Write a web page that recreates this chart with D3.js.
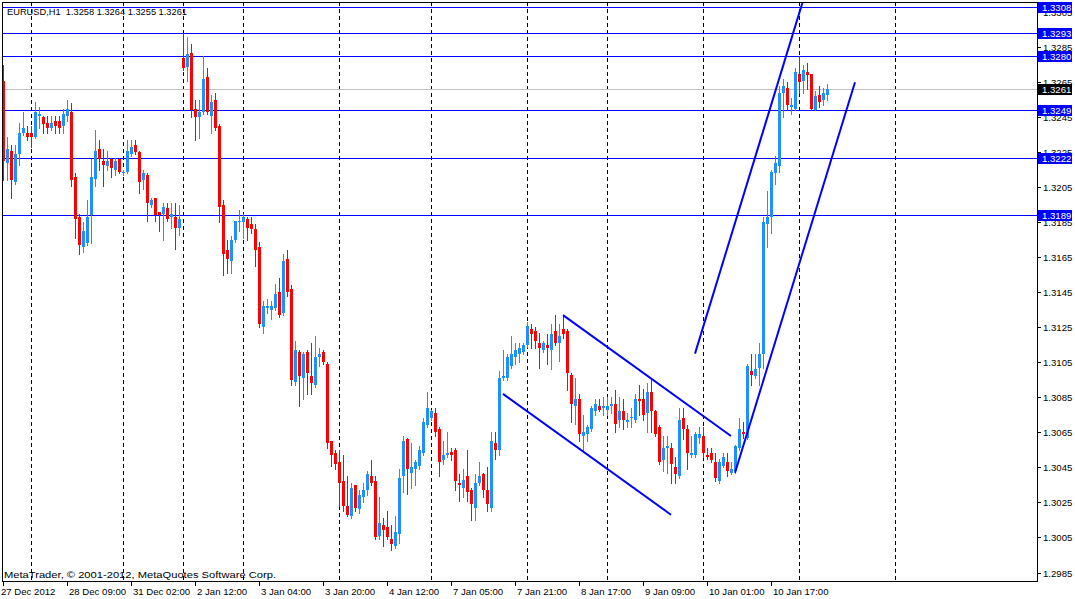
<!DOCTYPE html>
<html>
<head>
<meta charset="utf-8">
<script src="https://d3js.org/d3.v7.min.js"></script>
<style>
  body { margin: 0; background: #fff; }
  svg { display: block; }
  text { font-family: "Liberation Sans", Arial, sans-serif; font-size: 9.6px; }
</style>
</head>
<body>
<div class="chart"></div>
<script>
var w = 1075;
var h = 599;
var upColor = "#1E90FF";
var downColor = "#FF0000";
var lineBlue = "#0000FF";

var symbol = "EURUSD";
var period = "H1";

// hourly bars, index 0 = 27 Dec 2012 17:00
var open = [
  1.3266,1.3219,1.3226,1.3208,1.3224,1.3236,1.3236,1.3236,1.3234,1.3246,
  1.3245,1.3242,1.3239,1.3243,1.3243,1.3240,1.3246,1.3248,1.3211,1.3188,
  1.3171,1.3173,1.3189,1.3210,1.3227,1.3220,1.3217,1.3221,1.3215,1.3221,
  1.3213,1.3214,1.3224,1.3229,1.3225,1.3209,1.3212,1.3195,1.3199,1.3191,
  1.3190,1.3193,1.3188,1.3188,1.3182,1.3279,1.3274,1.3282,1.3250,1.3245,
  1.3248,1.3268,1.3246,1.3255,1.3240,1.3195,1.3169,1.3163,1.3175,1.3185,
  1.3185,1.3187,1.3184,1.3181,1.3171,1.3125,1.3136,1.3135,1.3136,1.3145,
  1.3133,1.3164,1.3147,1.3094,1.3111,1.3096,1.3111,1.3097,1.3092,1.3108,
  1.3111,1.3104,1.3060,1.3053,1.3048,1.3037,1.3023,1.3017,1.3035,1.3021,
  1.3028,1.3032,1.3040,1.3037,1.3006,1.3012,1.3011,1.3004,1.3000,1.3007,
  1.3040,1.3061,1.3042,1.3044,1.3046,1.3053,1.3069,1.3073,1.3076,1.3067,
  1.3049,1.3052,1.3054,1.3055,1.3036,1.3033,1.3040,1.3032,1.3022,1.3036,
  1.3041,1.3032,1.3022,1.3059,1.3055,1.3096,1.3096,1.3103,1.3108,1.3110,
  1.3111,1.3115,1.3124,1.3123,1.3116,1.3112,1.3115,1.3112,1.3123,1.3116,
  1.3124,1.3123,1.3098,1.3080,1.3084,1.3063,1.3064,1.3067,1.3077,1.3080,
  1.3079,1.3078,1.3080,1.3081,1.3072,1.3077,1.3071,1.3073,1.3072,1.3084,
  1.3084,1.3076,1.3088,1.3077,1.3068,1.3049,1.3056,1.3056,1.3045,1.3040,
  1.3073,1.3067,1.3052,1.3052,1.3062,1.3063,1.3052,1.3053,1.3048,1.3037,
  1.3046,1.3048,1.3042,1.3043,1.3056,1.3065,1.3062,1.3100,1.3097,1.3102,
  1.3110,1.3184,1.3188,1.3213,1.3217,1.3259,1.3262,1.3251,1.3250,1.3270,
  1.3266,1.3271,1.3270,1.3249,1.3258,1.3255,1.3258
];
var high = [
  1.3275,1.3234,1.3229,1.3229,1.3242,1.3248,1.3240,1.3240,1.3254,1.3251,
  1.3246,1.3246,1.3246,1.3246,1.3246,1.3250,1.3255,1.3253,1.3213,1.3190,
  1.3185,1.3198,1.3221,1.3238,1.3232,1.3227,1.3226,1.3222,1.3222,1.3222,
  1.3215,1.3232,1.3232,1.3232,1.3226,1.3215,1.3213,1.3199,1.3199,1.3191,
  1.3196,1.3196,1.3196,1.3196,1.3195,1.3293,1.3291,1.3287,1.3255,1.3255,
  1.3280,1.3273,1.3258,1.3259,1.3241,1.3198,1.3175,1.3177,1.3186,1.3192,
  1.3190,1.3188,1.3188,1.3184,1.3174,1.3140,1.3141,1.3140,1.3150,1.3153,
  1.3167,1.3169,1.3149,1.3117,1.3112,1.3111,1.3112,1.3116,1.3120,1.3113,
  1.3112,1.3105,1.3060,1.3055,1.3055,1.3052,1.3040,1.3036,1.3035,1.3032,
  1.3036,1.3043,1.3049,1.3040,1.3028,1.3016,1.3020,1.3012,1.3017,1.3044,
  1.3063,1.3062,1.3059,1.3049,1.3057,1.3073,1.3088,1.3078,1.3079,1.3068,
  1.3060,1.3065,1.3056,1.3056,1.3041,1.3044,1.3055,1.3033,1.3041,1.3048,
  1.3042,1.3045,1.3065,1.3065,1.3100,1.3112,1.3110,1.3120,1.3116,1.3116,
  1.3116,1.3128,1.3127,1.3125,1.3122,1.3117,1.3121,1.3127,1.3132,1.3127,
  1.3132,1.3124,1.3099,1.3096,1.3087,1.3075,1.3069,1.3080,1.3084,1.3084,
  1.3085,1.3085,1.3085,1.3089,1.3085,1.3084,1.3076,1.3079,1.3087,1.3092,
  1.3090,1.3093,1.3096,1.3078,1.3069,1.3063,1.3063,1.3059,1.3051,1.3079,
  1.3079,1.3069,1.3063,1.3065,1.3068,1.3068,1.3056,1.3056,1.3053,1.3050,
  1.3053,1.3053,1.3048,1.3058,1.3073,1.3071,1.3104,1.3110,1.3110,1.3116,
  1.3188,1.3203,1.3215,1.3223,1.3263,1.3267,1.3265,1.3256,1.3273,1.3280,
  1.3275,1.3276,1.3270,1.3260,1.3263,1.3262,1.3264
];
var low = [
  1.3209,1.3209,1.3199,1.3207,1.3218,1.3235,1.3232,1.3228,1.3233,1.3239,
  1.3236,1.3236,1.3238,1.3236,1.3236,1.3236,1.3243,1.3206,1.3176,1.3167,
  1.3168,1.3172,1.3173,1.3206,1.3215,1.3206,1.3215,1.3211,1.3212,1.3213,
  1.3212,1.3213,1.3223,1.3224,1.3202,1.3204,1.3186,1.3194,1.3186,1.3180,
  1.3175,1.3186,1.3182,1.3170,1.3178,1.3272,1.3266,1.3245,1.3232,1.3233,
  1.3247,1.3247,1.3236,1.3238,1.3185,1.3155,1.3156,1.3156,1.3174,1.3180,
  1.3176,1.3175,1.3179,1.3160,1.3125,1.3122,1.3133,1.3130,1.3135,1.3131,
  1.3132,1.3143,1.3092,1.3092,1.3080,1.3084,1.3087,1.3087,1.3091,1.3103,
  1.3104,1.3056,1.3046,1.3044,1.3023,1.3020,1.3017,1.3016,1.3020,1.3019,
  1.3025,1.3029,1.3035,1.3004,1.3004,1.3000,1.3004,1.2998,1.2999,1.3002,
  1.3031,1.3030,1.3033,1.3035,1.3044,1.3052,1.3068,1.3072,1.3063,1.3040,
  1.3047,1.3051,1.3049,1.3032,1.3026,1.3028,1.3026,1.3015,1.3015,1.3035,
  1.3028,1.3020,1.3020,1.3050,1.3052,1.3095,1.3095,1.3102,1.3104,1.3105,
  1.3110,1.3114,1.3113,1.3113,1.3102,1.3111,1.3104,1.3101,1.3115,1.3106,
  1.3119,1.3089,1.3071,1.3070,1.3060,1.3055,1.3060,1.3066,1.3075,1.3077,
  1.3075,1.3075,1.3076,1.3065,1.3068,1.3067,1.3068,1.3068,1.3071,1.3075,
  1.3072,1.3065,1.3065,1.3063,1.3047,1.3043,1.3042,1.3036,1.3036,1.3039,
  1.3061,1.3044,1.3051,1.3051,1.3059,1.3051,1.3050,1.3048,1.3037,1.3036,
  1.3045,1.3040,1.3041,1.3042,1.3055,1.3062,1.3061,1.3092,1.3096,1.3092,
  1.3102,1.3171,1.3179,1.3207,1.3214,1.3245,1.3249,1.3247,1.3249,1.3259,
  1.3259,1.3261,1.3249,1.3249,1.3251,1.3252,1.3255
];
var close = [
  1.3220,1.3227,1.3209,1.3224,1.3236,1.3239,1.3234,1.3234,1.3248,1.3247,
  1.3241,1.3239,1.3242,1.3240,1.3239,1.3247,1.3250,1.3209,1.3187,1.3172,
  1.3180,1.3188,1.3211,1.3226,1.3221,1.3218,1.3220,1.3216,1.3220,1.3214,
  1.3214,1.3226,1.3228,1.3225,1.3208,1.3213,1.3196,1.3198,1.3189,1.3189,
  1.3194,1.3187,1.3190,1.3182,1.3187,1.3273,1.3281,1.3249,1.3245,1.3248,
  1.3267,1.3248,1.3254,1.3239,1.3194,1.3167,1.3164,1.3175,1.3186,1.3186,
  1.3188,1.3182,1.3181,1.3169,1.3127,1.3137,1.3137,1.3137,1.3144,1.3132,
  1.3163,1.3145,1.3095,1.3112,1.3097,1.3110,1.3099,1.3093,1.3108,1.3110,
  1.3105,1.3059,1.3052,1.3047,1.3036,1.3023,1.3018,1.3033,1.3022,1.3029,
  1.3032,1.3041,1.3036,1.3005,1.3013,1.3009,1.3005,1.3001,1.3008,1.3039,
  1.3060,1.3044,1.3045,1.3048,1.3055,1.3071,1.3079,1.3077,1.3065,1.3048,
  1.3052,1.3053,1.3052,1.3037,1.3035,1.3038,1.3031,1.3024,1.3036,1.3040,
  1.3032,1.3024,1.3060,1.3055,1.3096,1.3097,1.3108,1.3110,1.3112,1.3113,
  1.3115,1.3126,1.3121,1.3117,1.3113,1.3116,1.3113,1.3121,1.3116,1.3120,
  1.3121,1.3099,1.3081,1.3084,1.3064,1.3065,1.3068,1.3079,1.3081,1.3078,
  1.3080,1.3080,1.3081,1.3070,1.3077,1.3072,1.3072,1.3074,1.3084,1.3083,
  1.3075,1.3088,1.3077,1.3064,1.3048,1.3056,1.3057,1.3047,1.3041,1.3072,
  1.3067,1.3053,1.3053,1.3064,1.3064,1.3053,1.3051,1.3049,1.3039,1.3048,
  1.3051,1.3043,1.3044,1.3057,1.3067,1.3064,1.3103,1.3098,1.3101,1.3110,
  1.3185,1.3188,1.3214,1.3219,1.3259,1.3263,1.3252,1.3252,1.3271,1.3265,
  1.3272,1.3269,1.3250,1.3257,1.3254,1.3259,1.3261
];

// time axis: bar index of each label
var timeTickBars = [0, 16, 32, 48, 64, 80, 96, 112, 128, 144, 160, 176, 192];
var timeTickLabels = ["27 Dec 2012", "28 Dec 09:00", "31 Dec 02:00", "2 Jan 12:00", "3 Jan 04:00",
  "3 Jan 20:00", "4 Jan 12:00", "7 Jan 05:00", "7 Jan 21:00", "8 Jan 17:00", "9 Jan 09:00",
  "10 Jan 01:00", "10 Jan 17:00"];
// day separators (bar index)
var separatorBars = [7, 30, 45, 60, 84, 107, 131, 151, 175, 199, 223];

var priceTicks = [1.2985, 1.3005, 1.3025, 1.3045, 1.3065, 1.3085, 1.3105, 1.3125, 1.3145,
  1.3165, 1.3185, 1.3205, 1.3225, 1.3245, 1.3265, 1.3285, 1.3305];
var levelPrices = [1.3308, 1.3293, 1.3280, 1.3249, 1.3222, 1.3189];
var bidPrice = 1.3261;

// trend lines: [bar, price] pairs
var channelStart = [[140, 1.3132], [125, 1.3087], [173, 1.3110], [183, 1.3042]];
var channelEnd   = [[182, 1.3063], [167, 1.3018], [201, 1.3319], [213, 1.3265]];

var plotL = 2, plotR = 1037, plotT = 2, plotB = 582;

var xScale = d3.scaleLinear().domain([0, 1]).range([3, 7]); // 4px per bar
var yScale = d3.scaleLinear().domain([1.2985, 1.3308]).range([572.5, 7]);

var svg = d3.select(".chart").append("svg")
  .attr("width", w)
  .attr("height", h)
  .style("shape-rendering", "crispEdges");

svg.append("rect").attr("width", w).attr("height", h).attr("fill", "#fff");

svg.append("clipPath").attr("id", "plotClip")
  .append("rect")
  .attr("x", plotL + 1).attr("y", plotT + 1)
  .attr("width", plotR - plotL - 1).attr("height", plotB - plotT - 1);

var plot = svg.append("g").attr("clip-path", "url(#plotClip)");

// period separators
plot.selectAll(".sep")
  .data(separatorBars)
  .enter().append("line")
  .attr("class", "sep")
  .attr("x1", d => Math.round(xScale(d)) + 0.5)
  .attr("x2", d => Math.round(xScale(d)) + 0.5)
  .attr("y1", plotT)
  .attr("y2", plotB)
  .attr("stroke", "#000")
  .attr("stroke-width", 1)
  .attr("stroke-dasharray", "4,3");

// bid line
plot.append("line")
  .attr("x1", plotL).attr("x2", plotR)
  .attr("y1", Math.round(yScale(bidPrice)) + 0.5)
  .attr("y2", Math.round(yScale(bidPrice)) + 0.5)
  .attr("stroke", "#C0C0C0");

// horizontal level lines
plot.selectAll(".level")
  .data(levelPrices)
  .enter().append("line")
  .attr("class", "level")
  .attr("x1", plotL).attr("x2", plotR)
  .attr("y1", d => Math.round(yScale(d)) + 0.5)
  .attr("y2", d => Math.round(yScale(d)) + 0.5)
  .attr("stroke", lineBlue);

// candles
var bars = d3.range(open.length);
var candle = plot.selectAll(".candle")
  .data(bars)
  .enter().append("g")
  .attr("class", "candle")
  .attr("fill", i => close[i] >= open[i] ? upColor : downColor)
  .attr("stroke", i => close[i] >= open[i] ? upColor : downColor);

candle.append("line") // wick
  .attr("x1", i => Math.round(xScale(i)) + 0.5)
  .attr("x2", i => Math.round(xScale(i)) + 0.5)
  .attr("y1", i => Math.round(yScale(high[i])))
  .attr("y2", i => Math.round(yScale(low[i])) + 1);

candle.append("rect") // body
  .attr("stroke", "none")
  .attr("x", i => Math.round(xScale(i)) - 1)
  .attr("width", 3)
  .attr("y", i => Math.round(yScale(Math.max(open[i], close[i]))))
  .attr("height", i => Math.max(1, Math.round(yScale(Math.min(open[i], close[i]))) - Math.round(yScale(Math.max(open[i], close[i])))));

// channel lines
plot.selectAll(".trend")
  .data(d3.range(channelStart.length))
  .enter().append("line")
  .attr("class", "trend")
  .style("shape-rendering", "auto")
  .attr("x1", k => xScale(channelStart[k][0]))
  .attr("y1", k => yScale(channelStart[k][1]))
  .attr("x2", k => xScale(channelEnd[k][0]))
  .attr("y2", k => yScale(channelEnd[k][1]))
  .attr("stroke", lineBlue)
  .attr("stroke-width", 2);

// frame
svg.append("rect")
  .attr("x", plotL + 0.5).attr("y", plotT + 0.5)
  .attr("width", plotR - plotL).attr("height", plotB - plotT - 1)
  .attr("fill", "none")
  .attr("stroke", "#000");

// time axis
var tAxis = svg.append("g");
tAxis.selectAll("line")
  .data(timeTickBars)
  .enter().append("line")
  .attr("x1", d => Math.round(xScale(d)) + 0.5)
  .attr("x2", d => Math.round(xScale(d)) + 0.5)
  .attr("y1", plotB)
  .attr("y2", plotB + 4)
  .attr("stroke", "#000");
tAxis.selectAll("text")
  .data(timeTickBars)
  .enter().append("text")
  .attr("x", (d, i) => i === 0 ? 1 : Math.round(xScale(d)) + 2)
  .attr("y", 595)
  .attr("fill", "#000")
  .text((d, i) => timeTickLabels[i]);

// price axis
var pAxis = svg.append("g");
pAxis.selectAll("line")
  .data(priceTicks)
  .enter().append("line")
  .attr("x1", plotR)
  .attr("x2", plotR + 4)
  .attr("y1", d => Math.round(yScale(d)) + 0.5)
  .attr("y2", d => Math.round(yScale(d)) + 0.5)
  .attr("stroke", "#000");
pAxis.selectAll("text")
  .data(priceTicks)
  .enter().append("text")
  .attr("x", plotR + 6)
  .attr("y", d => Math.round(yScale(d)) + 4)
  .attr("fill", "#000")
  .text(d => d.toFixed(4));

// price labels of the level lines and bid
var tags = levelPrices.map(p => ({p: p, bg: lineBlue})).concat([{p: bidPrice, bg: "#000"}]);
var tag = svg.append("g").selectAll("g")
  .data(tags)
  .enter().append("g")
  .attr("transform", d => "translate(" + (plotR + 1) + "," + Math.round(yScale(d.p)) + ")");
tag.append("rect")
  .attr("x", 0).attr("y", -5)
  .attr("width", 34).attr("height", 11)
  .attr("fill", d => d.bg);
tag.append("text")
  .attr("x", 4).attr("y", 4)
  .attr("fill", "#fff")
  .text(d => d.p.toFixed(4));

// header and copyright
var last = open.length - 1;
svg.append("text")
  .attr("x", 7).attr("y", 15)
  .attr("fill", "#000")
  .attr("textLength", 180)
  .attr("lengthAdjust", "spacingAndGlyphs")
  .style("white-space", "pre")
  .text(symbol + "," + period + "  " + open[last].toFixed(4) + " " + high[last].toFixed(4) + " " +
        low[last].toFixed(4) + " " + close[last].toFixed(4));

svg.append("text")
  .attr("x", 4).attr("y", 578)
  .attr("fill", "#000")
  .attr("textLength", 272)
  .attr("lengthAdjust", "spacingAndGlyphs")
  .text("MetaTrader, \u00A9 2001-2012, MetaQuotes Software Corp.");
</script>
</body>
</html>
